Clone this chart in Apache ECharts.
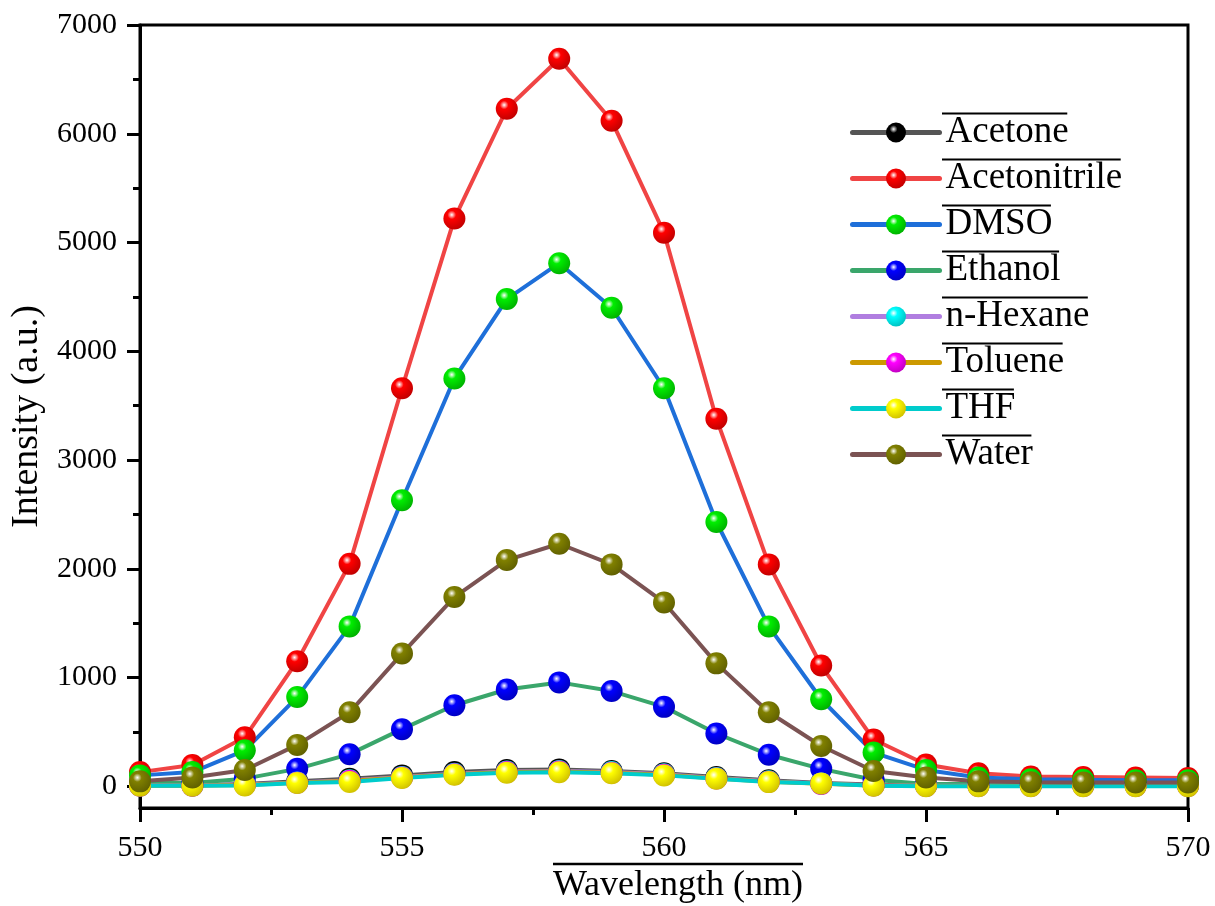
<!DOCTYPE html>
<html>
<head>
<meta charset="utf-8">
<script src="https://cdn.jsdelivr.net/npm/echarts@6/dist/echarts.min.js"></script>
<style>html,body{margin:0;padding:0;background:#fff;}#chart{width:1215px;height:906px;}</style>
</head>
<body>
<div id="chart"></div>
<script>
// ---- data ----
const wavelengths = [550,551,552,553,554,555,556,557,558,559,560,561,562,563,564,565,566,567,568,569,570];
const seriesNames = ['Acetone','Acetonitrile','DMSO','Ethanol','n-Hexane','Toluene','THF','Water'];
const acetone      = [10,10,20,45,70,100,130,150,155,140,120,85,55,30,15,10,10,10,10,10,10];
const acetonitrile = [130,195,450,1150,2045,3660,5220,6230,6690,6120,5090,3380,2040,1110,430,200,120,90,85,80,75];
const dmso         = [100,130,330,820,1470,2630,3750,4480,4810,4400,3660,2430,1470,800,310,150,80,65,60,55,55];
const ethanol      = [35,30,70,160,295,525,745,890,955,875,730,485,290,160,60,20,20,20,20,20,20];
const nHexane      = [8,8,15,35,55,85,115,135,140,130,110,75,45,25,10,5,5,5,5,5,5];
const toluene      = [5,5,12,32,50,80,110,130,135,125,105,72,42,22,8,3,3,3,3,3,3];
const thf          = [5,5,8,30,40,75,105,125,128,120,100,70,38,25,5,0,0,0,0,0,0];
const water        = [45,80,150,380,680,1220,1740,2080,2230,2040,1690,1130,680,370,140,80,45,37,35,35,35];
const allValues = [acetone, acetonitrile, dmso, ethanol, nHexane, toluene, thf, water];
const yTickValues = [0,1000,2000,3000,4000,5000,6000,7000];
const yMinorTickValues = [500,1500,2500,3500,4500,5500,6500];

// ---- styles ----
const lineColors   = ['#555555','#f04444','#1e6fd9','#3aa66b','#b07ee0','#cc9900','#00cccc','#7b5353'];
const markerColors = ['#000000','#ff0000','#00ee00','#0000ff','#00ffff','#ff00ff','#ffff00','#808000'];
const markerDark   = ['#000000','#c00000','#00b000','#0000c0','#00c0c0','#c000c0','#d0c000','#606000'];
const FONT = "'Liberation Serif','Times New Roman',serif";

function ball(c, d) {
  return {type:'radial', x:0.38, y:0.33, r:0.7,
    colorStops:[{offset:0,color:'#ffffff'},{offset:0.28,color:c},{offset:1,color:d}]};
}

const series = seriesNames.map((name, i) => ({
  name: name,
  type: 'line',
  data: wavelengths.map((w, k) => [w, allValues[i][k]]),
  symbol: 'circle',
  symbolSize: 22,
  lineStyle: {color: lineColors[i], width: 4},
  itemStyle: {color: ball(markerColors[i], markerDark[i])},
  emphasis: {disabled: true},
  animation: false
}));

const chart = echarts.init(document.getElementById('chart'), null, {renderer:'canvas'});

const legendFont = 37;
const legendLeft = 850, legendTop = 114, itemH = 37, itemGap = 9, itemW = 87;
const option = {
  backgroundColor: '#ffffff',
  animation: false,
  grid: {left:140, right:27, top:25, bottom:98, show:true, borderColor:'#000', borderWidth:3,
         backgroundColor:'transparent', containLabel:false, outerBoundsMode:'none'},
  legend: {
    orient:'vertical', left:legendLeft, top:legendTop, padding:0,
    itemWidth:itemW, itemHeight:25, itemGap:itemGap,
    lineStyle:{width:5, cap:'round'},
    textStyle:{fontFamily:FONT, fontSize:legendFont, color:'#000', padding:[0,0,0,1]},
    data: seriesNames
  },
  xAxis: {
    type:'value', min:550, max:570, interval:5,
    name:'Wavelength (nm)', nameLocation:'middle', nameGap:58,
    nameTextStyle:{fontFamily:FONT, fontSize:36, color:'#000', padding:[0,0,0,28]},
    axisLine:{show:true, onZero:false, lineStyle:{color:'#000', width:3}},
    axisTick:{show:true, inside:false, length:14, lineStyle:{color:'#000', width:3}},
    minorTick:{show:true, splitNumber:2, length:7, lineStyle:{color:'#000', width:3}},
    axisLabel:{fontFamily:FONT, fontSize:30, color:'#000', margin:25, formatter: v => String(v)},
    splitLine:{show:false}, minorSplitLine:{show:false}
  },
  yAxis: [{
    type:'value', min:-200, max:7000,
    name:'Intensity (a.u.)', nameLocation:'middle', nameGap:84, nameRotate:90,
    nameTextStyle:{fontFamily:FONT, fontSize:38, color:'#000'},
    axisLine:{show:true, onZero:false, lineStyle:{color:'#000', width:3}},
    axisTick:{show:true, inside:false, length:13, customValues:yTickValues, lineStyle:{color:'#000', width:3}},
    axisLabel:{fontFamily:FONT, fontSize:30, color:'#000', margin:23, customValues:yTickValues, formatter: v => String(v)},
    splitLine:{show:false}
  },{
    type:'value', min:-200, max:7000, position:'left',
    axisLine:{show:false},
    axisTick:{show:true, inside:false, length:7, customValues:yMinorTickValues, lineStyle:{color:'#000', width:3}},
    axisLabel:{show:false},
    splitLine:{show:false}
  }],
  series: series
};
chart.setOption(option);

// overline decorations above legend texts and x-axis title
const ctx = document.createElement('canvas').getContext('2d');
function textW(str, size) { ctx.font = size + "px 'Liberation Serif'"; return ctx.measureText(str).width; }
const graphics = [];
const textX = legendLeft + itemW + 5 + 1;
seriesNames.forEach((n, i) => {
  const cy = legendTop + i * (itemH + itemGap) + itemH / 2;
  const y = cy - 19;
  graphics.push({type:'line', silent:true, shape:{x1:textX - 1, y1:y, x2:textX + textW(n, legendFont) + 1, y2:y}, style:{stroke:'#000', lineWidth:2}});
});
const titleW = textW('Wavelength (nm)', 36);
const titleCx = (140 + 1188) / 2 + 14;
graphics.push({type:'line', silent:true, shape:{x1:titleCx - titleW/2, y1:864, x2:titleCx + titleW/2, y2:864}, style:{stroke:'#000', lineWidth:2.5}});
chart.setOption({graphic: graphics});
</script>
</body>
</html>
